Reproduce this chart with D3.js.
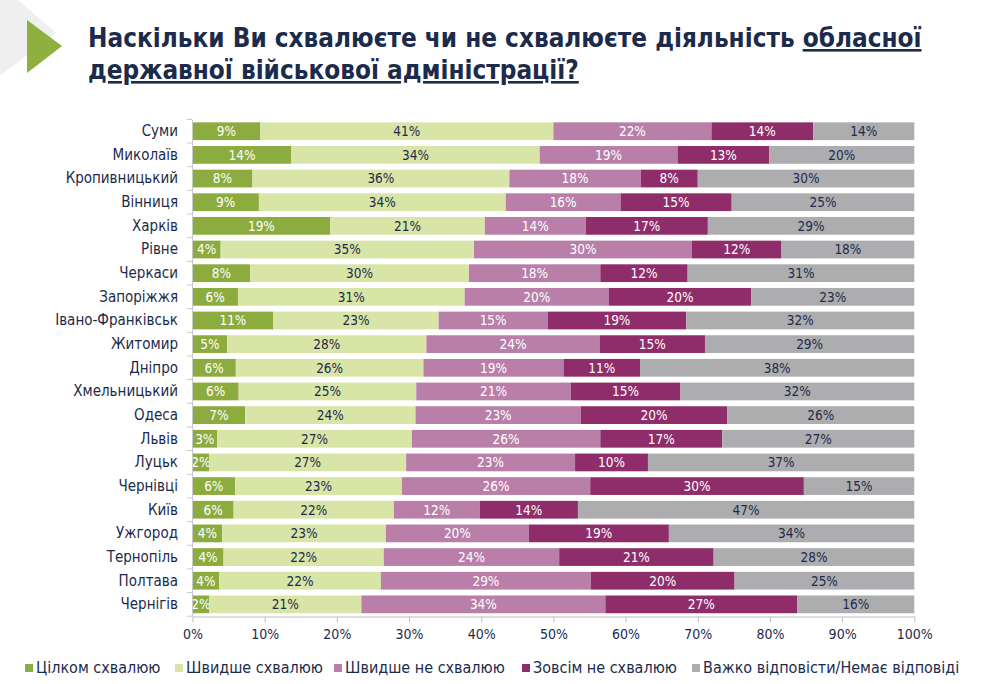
<!DOCTYPE html>
<html><head><meta charset="utf-8">
<script src="https://cdn.jsdelivr.net/npm/d3@7"></script>
<style>
html,body{margin:0;padding:0;background:#fff;}
svg{display:block;}
</style></head>
<body>
<svg id="chart" width="990" height="684"></svg>
<script>
const categories = ["Суми","Миколаїв","Кропивницький","Вінниця","Харків","Рівне","Черкаси","Запоріжжя","Івано-Франківськ","Житомир","Дніпро","Хмельницький","Одеса","Львів","Луцьк","Чернівці","Київ","Ужгород","Тернопіль","Полтава","Чернігів"];
const seriesNames = ["Цілком схвалюю","Швидше схвалюю","Швидше не схвалюю","Зовсім не схвалюю","Важко відповісти/Немає відповіді"];
const fullyApprove   = [9.4,13.7,8.3,9.2,19.1,3.9,8.0,6.3,11.2,4.8,6.0,6.4,7.3,3.4,2.3,5.9,5.7,4.1,4.3,3.7,2.3];
const ratherApprove  = [40.6,34.4,35.6,34.2,21.4,35.1,30.3,31.4,22.9,27.6,26.0,24.6,23.6,27.0,27.3,23.1,22.2,22.7,22.2,22.4,21.1];
const ratherDisapprove = [21.9,19.1,18.2,15.9,14.0,30.2,18.2,20.0,15.1,24.0,19.4,21.4,22.9,26.1,23.4,26.1,11.9,19.8,24.3,29.1,33.8];
const fullyDisapprove  = [14.1,12.7,7.9,15.4,16.9,12.4,12.1,19.7,19.2,14.6,10.6,15.2,20.3,16.9,10.1,29.6,13.6,19.4,21.4,19.9,26.6];
const hardToSay      = [14.0,20.1,30.0,25.3,28.6,18.4,31.4,22.6,31.6,29.0,38.0,32.4,25.9,26.6,36.9,15.3,46.6,34.0,27.8,24.9,16.2];
const xTicks = [0,10,20,30,40,50,60,70,80,90,100];

const colors = ["#8cac3f","#d9e5a7","#b97fa9","#8f2d6b","#adadaf"];
const labelColors = ["#ffffff","#1c2b4b","#ffffff","#ffffff","#1c2b4b"];
const navy = "#1c2b4b";
const FONT = "'DejaVu Sans Condensed','Noto Sans',sans-serif";

const svg = d3.select("#chart");
const seriesVals = [fullyApprove, ratherApprove, ratherDisapprove, fullyDisapprove, hardToSay];
const rows = categories.map((c,i)=>{ const o={cat:c}; seriesNames.forEach((s,k)=>o[s]=seriesVals[k][i]); return o; });
const stack = d3.stack().keys(seriesNames)(rows);

// logo
svg.append("polygon").attr("points","0,0 18,0 56,33 0,76").attr("fill","#efeff0");
svg.append("polygon").attr("points","27,20 62,46 27,73").attr("fill","#8db03f");

// title
const title = svg.append("text").attr("font-family",FONT).attr("font-weight","bold").attr("fill",navy).attr("font-size",26);
title.append("tspan").attr("x",88).attr("y",47).text("Наскільки Ви схвалюєте чи не схвалюєте діяльність ");
title.append("tspan").attr("text-decoration","underline").text("обласної");
const title2 = svg.append("text").attr("font-family",FONT).attr("font-weight","bold").attr("fill",navy).attr("font-size",26)
  .attr("x",88).attr("y",79).attr("text-decoration","underline").text("державної військової адміністрації?");
const w1 = title.node().getComputedTextLength();
const fs = 26*834/w1;
title.attr("font-size",fs); title2.attr("font-size",fs);

const x = d3.scaleLinear().domain([0,100]).range([192.5,914.3]);
const y = d3.scaleBand().domain(categories).range([119.4,616.2]).paddingInner(0.25).paddingOuter(0.125);

// bars
const g = svg.append("g");
stack.forEach((layer,k)=>{
  const lg = g.append("g");
  lg.selectAll("rect").data(layer).join("rect")
    .attr("x",d=>x(d[0])).attr("width",d=>x(d[1])-x(d[0]))
    .attr("y",d=>y(d.data.cat)).attr("height",y.bandwidth())
    .attr("fill",colors[k]);
  lg.selectAll("text").data(layer).join("text")
    .attr("x",d=>(x(d[0])+x(d[1]))/2).attr("y",d=>y(d.data.cat)+y.bandwidth()/2)
    .attr("dy","0.36em").attr("text-anchor","middle")
    .attr("font-family",FONT).attr("font-size",13.5).attr("fill",labelColors[k])
    .text(d=>d3.format(".0f")(d[1]-d[0])+"%");
});

// left axis
const yAxis = d3.axisLeft(y).tickSize(0).tickPadding(14);
const ya = svg.append("g").attr("transform","translate(192,0)").call(yAxis);
ya.select(".domain").attr("stroke","#c8c8c8");
ya.selectAll("text").attr("font-family",FONT).attr("font-size",15).attr("fill",navy);
const bounds = categories.map(c=>y(c)-y.step()*y.paddingInner()/2).concat([616.2]);
svg.append("g").selectAll("line").data(bounds).join("line")
  .attr("x1",187).attr("x2",192).attr("y1",d=>d).attr("y2",d=>d).attr("stroke","#c8c8c8");

// bottom axis
const xAxis = d3.axisBottom(x).tickValues(xTicks).tickFormat(d=>d+"%").tickSize(6).tickSizeOuter(0).tickPadding(7);
const xa = svg.append("g").attr("transform","translate(0,616.5)").call(xAxis);
xa.select(".domain").attr("stroke","#bfbfbf");
xa.selectAll(".tick line").attr("stroke","#bfbfbf");
xa.selectAll("text").attr("font-family",FONT).attr("font-size",14).attr("fill",navy);

// legend
const legX = [25,175,334,522,692];
const leg = svg.append("g");
seriesNames.forEach((s,k)=>{
  leg.append("rect").attr("x",legX[k]).attr("y",664).attr("width",8).attr("height",8).attr("fill",colors[k]);
  leg.append("text").attr("x",legX[k]+11).attr("y",673).attr("font-family",FONT).attr("font-size",16).attr("fill",navy).text(s);
});
</script>
</body></html>
